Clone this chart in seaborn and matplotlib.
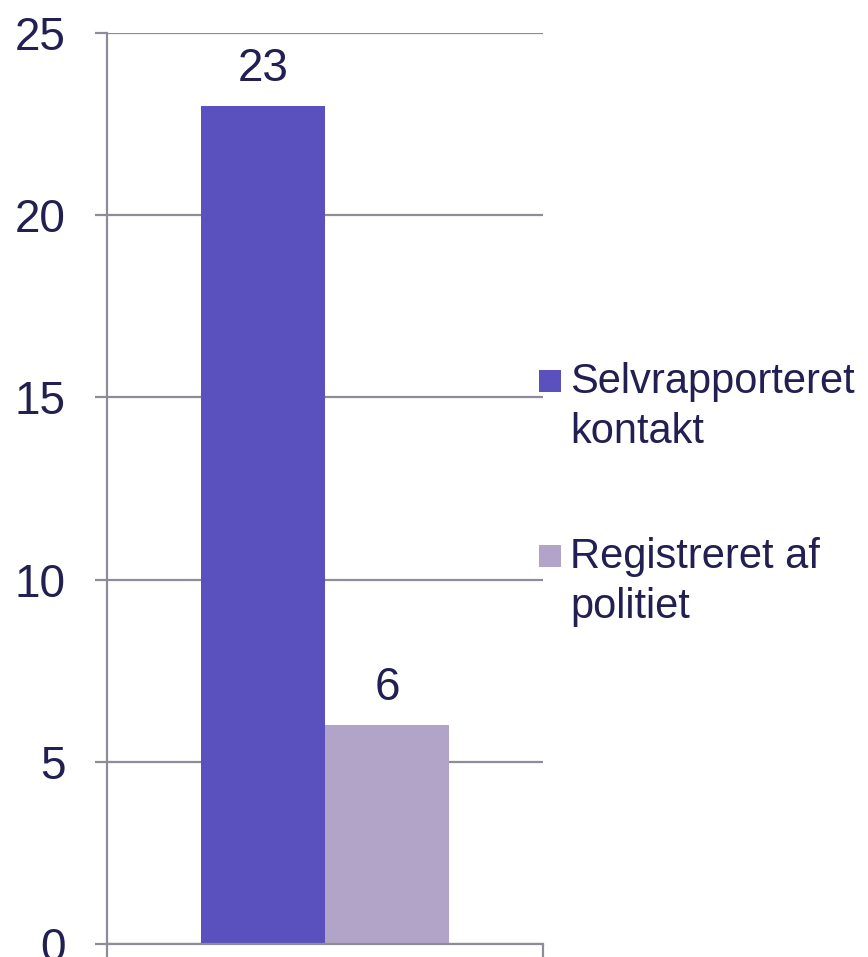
import matplotlib
matplotlib.use('Agg')
import matplotlib.pyplot as plt
from matplotlib.patches import Rectangle
import seaborn as sns
import pandas as pd

sns.set_style("white")
plt.rcParams['font.family'] = ['Liberation Sans', 'DejaVu Sans']

# data
groups = ['', '']
series = ['Selvrapporteret\nkontakt', 'Registreret af\npolitiet']
values = [23, 6]
colors = ['#5A51BE', '#B2A3C8']

textcol = '#221F52'
gridcol = '#8E8C98'

df = pd.DataFrame({'group': groups, 'series': series, 'value': values})

W, H = 868, 957
fig = plt.figure(figsize=(W / 100, H / 100), dpi=100)
ax = fig.add_axes([107 / W, 1 - 944 / H, 436 / W, 911 / H])

sns.barplot(data=df, x='group', y='value', hue='series', palette=colors,
            width=0.57, saturation=1, ax=ax, legend=False, linewidth=0)

ax.set_xlim(-0.5, 0.5)
ax.set_ylim(0, 25)
ax.set_yticks(range(0, 26, 5))
ax.set_xticks([])
ax.set_xticks([-0.5, 0.5], minor=True)
ax.set_xlabel('')
ax.set_ylabel('')
ax.yaxis.grid(True, color=gridcol, linewidth=1.6)
ax.set_axisbelow(True)
for s in ['top', 'right']:
    ax.spines[s].set_visible(False)
for s in ['left', 'bottom']:
    ax.spines[s].set_color(gridcol)
    ax.spines[s].set_linewidth(1.6)
ax.tick_params(axis='y', which='major', direction='out', length=9, width=1.6,
               color=gridcol, pad=21, labelsize=33, labelcolor=textcol, left=True)
ax.tick_params(axis='x', which='minor', direction='out', length=9, width=1.6,
               color=gridcol, bottom=True)

for cont in ax.containers:
    ax.bar_label(cont, fmt='%d', padding=11, fontsize=33, color=textcol)

# legend drawn by hand: square next to the first line of each label
legend_tops = [370, 545]
for lab, col, top in zip(series, colors, legend_tops):
    fig.add_artist(Rectangle((539 / W, 1 - (top + 22) / H), 22 / W, 22 / H,
                             transform=fig.transFigure, color=col, lw=0))
    for k, line in enumerate(lab.split('\n')):
        base = top + 23 + k * 50
        fig.text(570 / W, 1 - base / H, line, fontsize=30, color=textcol,
                 va='baseline', ha='left')

fig.savefig('out.png', dpi=100)
